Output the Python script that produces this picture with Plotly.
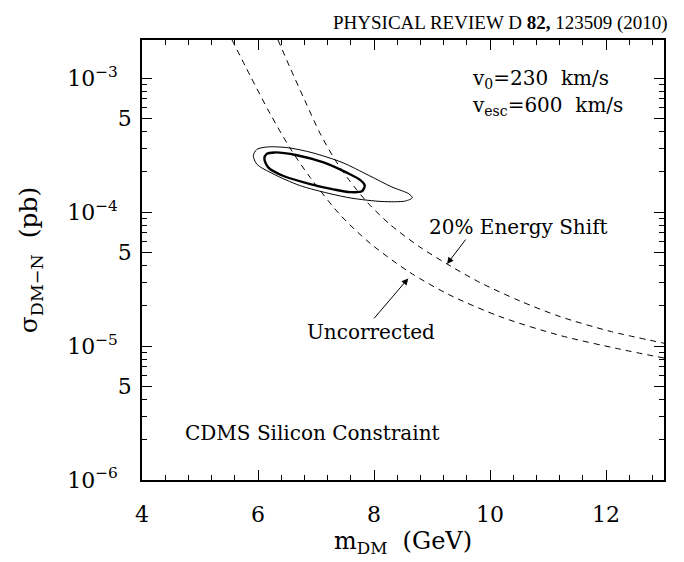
import math
import plotly.graph_objects as go

# ---- data ----
uncorr_m = [5.552, 5.862, 6.207, 6.552, 6.897, 7.414, 7.931, 8.621, 9.310, 10.172, 11.207, 12.241, 13.0]
uncorr_s = [1.93e-3, 1.05e-3, 5.45e-4, 3.01e-4, 1.82e-4, 9.57e-5, 5.86e-5, 3.54e-5, 2.40e-5, 1.66e-5, 1.20e-5, 9.48e-6, 8.14e-6]

shift_m = [6.345, 6.552, 6.810, 7.069, 7.328, 7.586, 7.879, 8.276, 8.793, 9.310, 9.828, 10.517, 11.207, 12.069, 13.0]
shift_s = [1.93e-3, 1.20e-3, 6.78e-4, 3.88e-4, 2.46e-4, 1.70e-4, 1.19e-4, 8.09e-5, 5.48e-5, 3.98e-5, 2.98e-5, 2.17e-5, 1.66e-5, 1.29e-5, 1.05e-5]

outer_m = [5.92, 5.98, 6.18, 6.53, 6.93, 7.45, 7.91, 8.31, 8.60, 8.66, 8.54, 8.14, 7.62, 7.22, 6.72, 6.26, 5.98, 5.92]
outer_s = [2.64e-4, 2.94e-4, 3.07e-4, 3.02e-4, 2.78e-4, 2.35e-4, 1.88e-4, 1.54e-4, 1.37e-4, 1.28e-4, 1.21e-4, 1.20e-4, 1.27e-4, 1.38e-4, 1.58e-4, 1.93e-4, 2.28e-4, 2.64e-4]

inner_m = [6.11, 6.15, 6.29, 6.67, 7.13, 7.53, 7.76, 7.84, 7.79, 7.59, 7.30, 6.90, 6.44, 6.18, 6.11]
inner_s = [2.50e-4, 2.72e-4, 2.79e-4, 2.66e-4, 2.35e-4, 1.97e-4, 1.74e-4, 1.58e-4, 1.43e-4, 1.41e-4, 1.48e-4, 1.62e-4, 1.86e-4, 2.15e-4, 2.50e-4]

x_ticks = [4, 6, 8, 10, 12]
y_ticks = [1e-6, 5e-6, 1e-5, 5e-5, 1e-4, 5e-4, 1e-3]
y_ticktext = ["10<sup>−6</sup>&nbsp;&nbsp;", "5", "10<sup>−5</sup>&nbsp;&nbsp;", "5",
              "10<sup>−4</sup>&nbsp;&nbsp;", "5", "10<sup>−3</sup>&nbsp;&nbsp;"]
y_minor = [k * 10 ** e for e in range(-6, -2) for k in (2, 3, 4, 6, 7, 8, 9)]

# text labels: (m, sigma, text)
labels = [
    (9.65, 9.8e-4, "v<sub>0</sub>=230  km/s"),
    (9.65, 6.2e-4, "v<sub>esc</sub>=600  km/s"),
    (8.91, 7.7e-5, "20% Energy Shift"),
    (6.81, 1.28e-5, "Uncorrected"),
    (4.71, 2.26e-6, "CDMS Silicon Constraint"),
]
# arrows: (head m, head sigma, tail m, tail sigma)
arrows = [
    (9.26, 4.1e-5, 9.60, 6.4e-5),
    (8.59, 3.2e-5, 7.98, 1.57e-5),
]

FONT = "DejaVu Serif"

fig = go.Figure()
dash = "6px,5px"
for xm, ys in ((uncorr_m, uncorr_s), (shift_m, shift_s)):
    fig.add_trace(go.Scatter(x=xm, y=ys, mode="lines", showlegend=False,
                             line=dict(color="black", width=1, dash=dash, shape="spline", smoothing=0.8)))
fig.add_trace(go.Scatter(x=outer_m, y=outer_s, mode="lines", showlegend=False,
                         line=dict(color="black", width=1, shape="spline", smoothing=0.8)))
fig.add_trace(go.Scatter(x=inner_m, y=inner_s, mode="lines", showlegend=False,
                         line=dict(color="black", width=2.4, shape="spline", smoothing=0.8)))

fig.update_xaxes(range=[4, 13], tickvals=x_ticks, ticks="inside", ticklen=10, tickwidth=1, tickcolor="black",
                 showline=True, linecolor="black", linewidth=1.5, mirror="allticks", showgrid=False, zeroline=False,
                 minor=dict(tick0=4, dtick=0.4, ticks="inside", ticklen=5, tickcolor="black", showgrid=False),
                 tickfont=dict(family=FONT, size=22, color="black"), ticklabelstandoff=14,
                 title=dict(text="m<sub>DM</sub>  (GeV)", font=dict(family=FONT, size=24, color="black"), standoff=6))
fig.update_yaxes(type="log", range=[-6, -2.715], tickvals=y_ticks, ticktext=y_ticktext, ticks="inside", ticklen=10,
                 tickwidth=1, tickcolor="black", showline=True, linecolor="black", linewidth=1.5, mirror="allticks",
                 showgrid=False, zeroline=False,
                 minor=dict(tickvals=y_minor, ticks="inside", ticklen=5, tickcolor="black", showgrid=False),
                 tickfont=dict(family=FONT, size=22, color="black"), ticklabelstandoff=4,
                 title=dict(text="σ<sub>DM−N</sub>  (pb)", font=dict(family=FONT, size=25, color="black"), standoff=22))

ann_font = dict(family=FONT, size=20, color="black")
for m, s, t in labels:
    fig.add_annotation(x=m, y=math.log10(s), text=t, showarrow=False, xanchor="left", yanchor="middle", font=ann_font)
for hm, hs, tm, ts in arrows:
    fig.add_annotation(x=hm, y=math.log10(hs), ax=tm, ay=math.log10(ts), xref="x", yref="y", axref="x", ayref="y",
                       text="", showarrow=True, arrowhead=2, arrowsize=1.3, arrowwidth=1, arrowcolor="black")

fig.add_annotation(x=1.0, y=1.0, xref="paper", yref="paper", xanchor="right", yanchor="bottom", yshift=4, xshift=6,
                   text="PHYSICAL REVIEW D <b>82,</b> 123509 (2010)", showarrow=False,
                   font=dict(family="Liberation Serif", size=19, color="black"))

fig.update_layout(width=684, height=562, margin=dict(l=142, r=20, t=40, b=74),
                  plot_bgcolor="white", paper_bgcolor="white")
fig.write_html("out.html")
